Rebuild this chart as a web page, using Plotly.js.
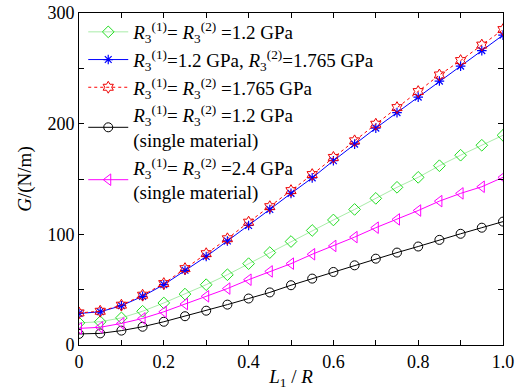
<!DOCTYPE html>
<html>
<head>
<meta charset="utf-8">
<script src="https://cdn.plot.ly/plotly-3.0.1.min.js"></script>
<style>html,body{margin:0;padding:0;background:#fff;}#chart{width:522px;height:390px;}</style>
</head>
<body>
<div id="chart"></div>
<script>
// L1/R positions
var ratio = [0, 0.05, 0.1, 0.15, 0.2, 0.25, 0.3, 0.35, 0.4, 0.45, 0.5, 0.55, 0.6, 0.65, 0.7, 0.75, 0.8, 0.85, 0.9, 0.95, 1.0];
// G (N/m) for each case
var gSame12 = [20, 21, 24.5, 30.5, 38, 46, 54.5, 63.5, 73.5, 83.5, 93.5, 103.5, 113, 122.5, 132.5, 142.5, 151.5, 162, 171.5, 180.5, 189.5];
var gMixed = [28.5, 30, 35.5, 44, 54.5, 67.5, 80, 94, 108, 122.5, 137, 151, 166.5, 181.5, 196, 210, 224, 238.5, 252, 266, 280];
var gSame1765 = [29, 30.5, 36, 45, 55.5, 69, 82.5, 96, 111, 125, 139.5, 154, 169.5, 184.5, 199.5, 214.5, 229, 244, 257, 271, 285];
var gSingle12 = [10, 10.5, 13, 16.5, 21, 26, 31, 36.5, 42, 47.5, 54, 60, 66, 72, 78, 83.5, 89, 95, 100.5, 106, 111.5];
var gSingle24 = [15, 16, 19.5, 24, 30, 37, 44, 51, 59, 66.5, 73.5, 82, 89.5, 97.5, 106, 113.5, 121.5, 130, 137, 143, 151.5];

var seriesNames = [
  '<i>R</i><sub>3</sub><sup>(1)</sup>= <i>R</i><sub>3</sub><sup>(2)</sup> =1.2 GPa',
  '<i>R</i><sub>3</sub><sup>(1)</sup>=1.2 GPa, <i>R</i><sub>3</sub><sup>(2)</sup>=1.765 GPa',
  '<i>R</i><sub>3</sub><sup>(1)</sup>= <i>R</i><sub>3</sub><sup>(2)</sup> =1.765 GPa',
  '<i>R</i><sub>3</sub><sup>(1)</sup>= <i>R</i><sub>3</sub><sup>(2)</sup> =1.2 GPa<br>(single material)',
  '<i>R</i><sub>3</sub><sup>(1)</sup>= <i>R</i><sub>3</sub><sup>(2)</sup> =2.4 GPa<br>(single material)'
];

var xTickVals = [0, 0.1, 0.2, 0.3, 0.4, 0.5, 0.6, 0.7, 0.8, 0.9, 1.0];
var xTickText = ['0', '', '0.2', '', '0.4', '', '0.6', '', '0.8', '', '1.0'];
var yTickVals = [0, 50, 100, 150, 200, 250, 300];
var yTickText = ['0', '', '100', '', '200', '', '300'];

var font = "'Liberation Serif', 'Times New Roman', serif";

var traces = [
  {x: ratio, y: gSame12, name: seriesNames[0], mode: 'lines+markers',
   line: {color: '#a8eca8', width: 1},
   marker: {symbol: 'diamond-open', size: 9, color: '#22dd22', line: {width: 1, color: '#22dd22'}}},
  {x: ratio, y: gMixed, name: seriesNames[1], mode: 'lines+markers',
   line: {color: '#0000ff', width: 1},
   marker: {symbol: 'asterisk-open', size: 8, color: '#0000ff', line: {width: 1.2, color: '#0000ff'}}},
  {x: ratio, y: gSame1765, name: seriesNames[2], mode: 'lines+markers',
   line: {color: '#ff0000', width: 1, dash: 'dot'},
   marker: {symbol: 'hexagram-open', size: 9, color: '#ee0000', line: {width: 1, color: '#ee0000'}}},
  {x: ratio, y: gSingle12, name: seriesNames[3], mode: 'lines+markers',
   line: {color: '#000000', width: 1},
   marker: {symbol: 'circle-open', size: 9, color: '#000000', line: {width: 1, color: '#000000'}}},
  {x: ratio, y: gSingle24, name: seriesNames[4], mode: 'lines+markers',
   line: {color: '#ff00ff', width: 1},
   marker: {symbol: 'triangle-left-open', size: 10, color: '#ff00ff', line: {width: 1, color: '#ff00ff'}}}
];

var layout = {
  width: 522, height: 390,
  margin: {l: 79, r: 19, t: 13, b: 45},
  paper_bgcolor: '#ffffff', plot_bgcolor: '#ffffff',
  font: {family: font, size: 19, color: '#000'},
  showlegend: true,
  legend: {x: 0.01, y: 1.0, xanchor: 'left', yanchor: 'top', bgcolor: 'rgba(0,0,0,0)',
           itemwidth: 40,
           font: {family: font, size: 19, color: '#000'}, borderwidth: 0, tracegroupgap: 0},
  xaxis: {range: [0, 1], tickmode: 'array', tickvals: xTickVals, ticktext: xTickText,
          ticks: 'inside', ticklen: 5, tickcolor: '#000', showline: true, linecolor: '#000', linewidth: 1,
          mirror: 'ticks', showgrid: false, zeroline: false,
          tickfont: {family: font, size: 18},
          title: {text: '<i>L</i><sub>1</sub> / <i>R</i>', font: {family: font, size: 19}, standoff: 2}},
  yaxis: {range: [0, 300], tickmode: 'array', tickvals: yTickVals, ticktext: yTickText,
          ticks: 'inside', ticklen: 5, tickcolor: '#000', showline: true, linecolor: '#000', linewidth: 1,
          mirror: 'ticks', showgrid: false, zeroline: false,
          tickfont: {family: font, size: 18},
          title: {text: '<i>G</i>/(N/m)', font: {family: font, size: 19}, standoff: 10}}
};

Plotly.newPlot('chart', traces, layout, {displayModeBar: false, staticPlot: true});
</script>
</body>
</html>
